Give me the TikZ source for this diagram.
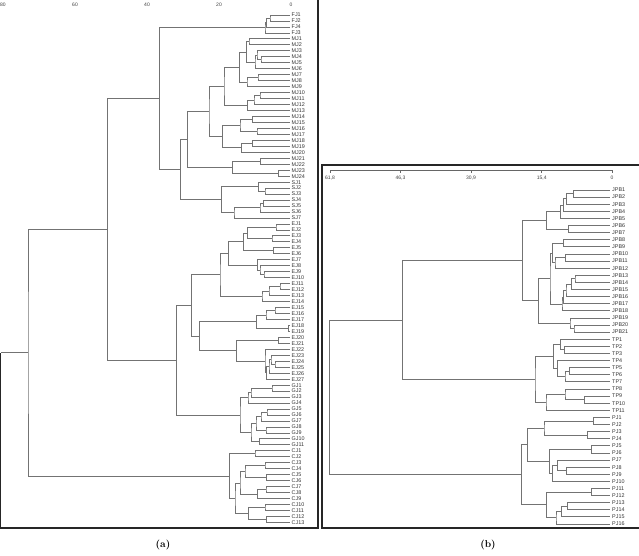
\documentclass[tikz,border=0pt]{standalone}
\usepackage{fontspec}
\setsansfont{Liberation Sans}
\usetikzlibrary{calc}

\begin{document}
\begin{tikzpicture}[x=1pt,y=-1pt,
 leafa/.style={anchor=west,inner xsep=2pt,inner ysep=0.5pt,font=\fontsize{5.4}{6}\selectfont\sffamily,text=black!80},
 leafb/.style={leafa},
 branch/.style={draw=black!55,line width=0.8pt},
 frame/.style={draw=black!85,line width=1.2pt},
 axisline/.style={draw=black!60,line width=0.5pt},
 scalelab/.style={font=\fontsize{5}{6}\selectfont\sffamily,text=black!75,inner sep=0.5pt},
 paneltag/.style={font=\fontsize{10}{12}\selectfont\bfseries,inner sep=1pt}]
\useasboundingbox (0,0) rectangle (639,555);

% ---- (a) ----
\foreach \v in {0,20,...,80} \node[scalelab] (sa\v) at ({291-3.6*\v},4.5) {\v};
\foreach \lab [count=\i from 0] in {FJ1,FJ2,FJ4,FJ3}
  \node[leafa] (\lab) at (289.5,{15+5.97*\i}) {\lab};
\foreach \gr/\num/\off in {MJ/24/3,SJ/7/27,EJ/27/34,GJ/11/61,CJ/13/72}
  {\foreach \k in {1,...,\num} \node[leafa] (\gr\k) at (289.5,{15+5.97*(\off+\k)}) {\gr\k};}

\foreach \nd/\ca/\cb/\hx in {f12/FJ1/FJ2/270,f124/f12/FJ4/266.7,fj/f124/FJ3/265,
  m12/MJ1/MJ2/249,m45/MJ4/MJ5/261,m345/MJ3/m45/257,m36/m345/MJ6/255,m16/m12/m36/246.7,
  m78/MJ7/MJ8/258,m79/m78/MJ9/247,m19/m16/m79/239.3,
  m1011/MJ10/MJ11/260,m1012/m1011/MJ12/254,m1013/m1012/MJ13/247.3,m113/m19/m1013/224,
  m1415/MJ14/MJ15/252.3,m1617/MJ16/MJ17/257,m1417/m1415/m1617/240,
  m1819/MJ18/MJ19/252.3,m1820/m1819/MJ20/241.7,m1420/m1417/m1820/222.7,m120/m113/m1420/209,
  m2122/MJ21/MJ22/260.7,m2324/MJ23/MJ24/278.3,m2124/m2122/m2324/232.7,mj/m120/m2124/187.3,
  s23/SJ2/SJ3/265,s13/SJ1/s23/258.3,s45/SJ4/SJ5/263.3,s46/s45/SJ6/260,s47/s46/SJ7/234,sj/s13/s47/221.7,
  a181/mj/sj/180.7,a160/fj/a181/159.3,
  e12/EJ1/EJ2/276,e34/EJ3/EJ4/272,e14/e12/e34/247.3,e56/EJ5/EJ6/273.3,e16/e14/e56/243.3,
  e910/EJ9/EJ10/264,e810/EJ8/e910/260,e710/EJ7/e810/257.7,e110/e16/e710/228.3,
  e1112/EJ11/EJ12/280,e1113/e1112/EJ13/269,e1114/e1113/EJ14/262,e114/e110/e1114/220,
  e1516/EJ15/EJ16/275,e1517/e1516/EJ17/266,e1819/EJ18/EJ19/288.7,e1519/e1517/e1819/256.7,
  e2021/EJ20/EJ21/278.3,e2425/EJ24/EJ25/275,e2325/EJ23/e2425/271,e2326/e2325/EJ26/269,
  e2327/e2326/EJ27/266.7,e2227/EJ22/e2327/265,e2027/e2021/e2227/236.7,e1527/e1519/e2027/199.3,
  ej/e114/e1527/191.7,
  g12/GJ1/GJ2/272,g13/g12/GJ3/251,g14/g13/GJ4/248,g56/GJ5/GJ6/267,g57/g56/GJ7/261,
  g89/GJ8/GJ9/266,g59/g57/g89/256,g1011/GJ10/GJ11/259.5,g511/g59/g1011/251,gj/g14/g511/240,
  a177/ej/gj/176.7,a107/a160/a177/107.3,
  c12/CJ1/CJ2/255,c34/CJ3/CJ4/265,c56/CJ5/CJ6/266.7,c36/c34/c56/245,c78/CJ7/CJ8/266,
  c79/c78/CJ9/257.3,c39/c36/c79/240,c1011/CJ10/CJ11/265,c1213/CJ12/CJ13/266.7,
  c1013/c1011/c1213/248.3,c313/c39/c1013/235,cj/c12/c313/229.3,
  a28/a107/cj/28}
{
  \path let \p1=($(\ca)!.5!(\cb)$) in (\hx pt,\y1) coordinate (\nd);
  \draw[branch] (\ca) -| (\nd) |- (\cb);
}
\coordinate (roota) at (0.6,0 |- a28);
\draw[branch] (a28) -- (roota);
\draw[frame] (318,0) -- (318,528) -- (0.6,528) -- (roota);
\node[paneltag] (taga) at (163,545) {(a)};

% ---- (b) ----
\draw[frame] (639,165) -- (322,165) -- (322,528) -- (639,528);
\draw[axisline] (330,170) -- (612,170);
\foreach \xx/\tl [count=\j] in {330/{61,8},400.5/{46,3},471/{30,9},541.7/{15,4},612/0}
{
  \draw[axisline] (\xx,170) -- (\xx,172.5);
  \node[scalelab] (sb\j) at (\xx,178) {\tl};
}
\foreach \gr/\num/\off in {JPB/21/-1,TP/11/20,PJ/16/31}
  {\foreach \k in {1,...,\num} \node[leafb] (\gr\k) at (610,{190+7.106*(\off+\k)}) {\gr\k};}

\foreach \nd/\ca/\cb/\hx in {j12/JPB1/JPB2/573.3,j13/j12/JPB3/566.7,j14/j13/JPB4/563.3,
  j15/j14/JPB5/560.7,j67/JPB6/JPB7/568.3,j17/j15/j67/546.7,
  j89/JPB8/JPB9/563.3,j1011/JPB10/JPB11/565.7,j1012/j1011/JPB12/555,j812/j89/j1012/552.3,
  j1314/JPB13/JPB14/575,j1315/j1314/JPB15/571.7,j1316/j1315/JPB16/566,j1317/j1316/JPB17/563.3,
  j1318/j1317/JPB18/562,j818/j812/j1318/550,j2021/JPB20/JPB21/574,j1921/JPB19/j2021/570,
  j821/j818/j1921/538.3,jpb/j17/j821/522.7,
  t23/TP2/TP3/564.3,t13/TP1/t23/560.7,t56/TP5/TP6/569.3,t57/t56/TP7/565,t47/TP4/t57/557.3,
  t17/t13/t47/553.3,t910/TP9/TP10/584,t810/TP8/t910/565,t811/t810/TP11/546,tp/t17/t811/535,
  b403/jpb/tp/402.7,
  p12/PJ1/PJ2/593.3,p34/PJ3/PJ4/587.7,p14/p12/p34/544,p56/PJ5/PJ6/591.7,p89/PJ8/PJ9/566.7,
  p79/PJ7/p89/557.3,p710/p79/PJ10/552.7,p510/p56/p710/549.3,p110/p14/p510/527.3,
  p1112/PJ11/PJ12/591.7,p1314/PJ13/PJ14/567.3,p1315/p1314/PJ15/561.7,p1316/p1315/PJ16/556,
  p1116/p1112/p1316/546.7,pj/p110/p1116/521.7,
  rootb/b403/pj/329.3}
{
  \path let \p1=($(\ca)!.5!(\cb)$) in (\hx pt,\y1) coordinate (\nd);
  \draw[branch] (\ca) -| (\nd) |- (\cb);
}
\node[paneltag] (tagb) at (488,545) {(b)};
\end{tikzpicture}
\end{document}
